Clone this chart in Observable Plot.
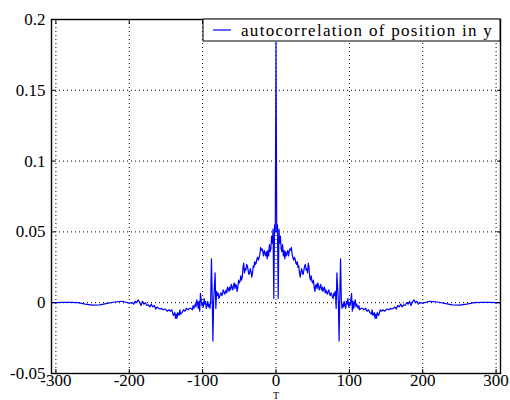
<!DOCTYPE html>
<html>
<head>
<meta charset="utf-8">
<script src="https://cdn.jsdelivr.net/npm/d3@7"></script>
<script src="https://cdn.jsdelivr.net/npm/@observablehq/plot@0.6"></script>
<style>
  html, body { margin: 0; padding: 0; background: white; }
  #chart { position: relative; width: 510px; height: 400px; overflow: hidden; }
  #chart svg text { font-family: 'Liberation Serif', 'DejaVu Serif', serif; }
</style>
</head>
<body>
<div id="chart"></div>
<script>
// Autocorrelation of the y position, lags 0..306 (the function is even in T).
const lagsPos = [
  0, 1, 2, 3, 4, 5, 6, 7, 8, 9, 10, 11, 12, 13, 14, 15, 16, 17, 18, 19,
  20, 21, 22, 24, 25, 26, 27, 28, 29, 30, 31, 32, 33, 34, 35, 36, 37, 38, 39, 40,
  41, 42, 43, 44, 45, 46, 47, 48, 49, 50, 51, 52, 53, 54, 55, 56, 57, 58, 59, 60,
  61, 62, 63, 64, 65, 66, 67, 68, 69, 70, 71, 72, 73, 74, 75, 76, 77, 78, 79, 80,
  81, 82, 83, 84, 85, 86, 87, 88, 89, 90, 91, 92, 93, 94, 95, 96, 97, 98, 99, 100,
  101, 102, 103, 104, 105, 106, 107, 108, 109, 110, 112, 113, 114, 116, 118, 120, 122, 124, 126, 128,
  130, 131, 132, 134, 135, 136, 137, 138, 140, 142, 144, 146, 148, 150, 152, 154, 156, 158, 160, 162,
  164, 166, 168, 170, 172, 174, 176, 178, 180, 182, 184, 186, 188, 190, 192, 194, 196, 200, 210, 220,
  230, 240, 250, 260, 270, 280, 290, 300, 306
];
const acfPos = [
  0.184, 0.050, 0.055, 0.003, 0.052, 0.042, 0.047, 0.038, 0.036, 0.041, 0.033, 0.037, 0.031, 0.036, 0.033, 0.035, 0.037, 0.033, 0.036, 0.038,
  0.037, 0.039, 0.034, 0.030, 0.032, 0.031, 0.028, 0.027, 0.029, 0.025, 0.026, 0.021, 0.018, 0.022, 0.024, 0.021, 0.020, 0.023, 0.026, 0.027,
  0.023, 0.024, 0.021, 0.028, 0.025, 0.018, 0.016, 0.019, 0.015, 0.014, 0.016, 0.011, 0.008, 0.012, 0.013, 0.010, 0.014, 0.012, 0.009, 0.011,
  0.013, 0.009, 0.011, 0.008, 0.010, 0.011, 0.007, 0.009, 0.007, 0.006, 0.008, 0.009, 0.006, 0.005, 0.007, 0.006, 0.004, 0.003, 0.007, 0.005,
  0.008, -0.004, 0.021, 0.011, 0.001, -0.027, 0.006, 0.031, 0.002, -0.004, -0.001, -0.003, 0.001, -0.002, -0.004, 0.001, -0.001, 0.003, -0.003, 0.000,
  -0.002, 0.002, 0.0066, -0.006, 0.001, -0.004, 0.000, 0.002, -0.003, -0.001, -0.004, -0.002, -0.005, -0.004, -0.004, -0.005, -0.004, -0.006, -0.005, -0.007,
  -0.008, -0.005, -0.009, -0.007, -0.011, -0.008, -0.011, -0.007, -0.009, -0.005, -0.006, -0.005, -0.006, -0.005, -0.0045, -0.005, -0.004, -0.0045, -0.004, -0.003,
  -0.0045, -0.002, -0.003, -0.001, -0.003, -0.0015, -0.002, 0.000, -0.001, 0.001, -0.002, 0.0005, 0.002, 0.000, 0.001, -0.001, 0.000, -0.0003, 0.001, 0.0005,
  -0.0005, -0.0015, -0.0017, -0.001, 0.000, 0.0002, 0.0002, 0.0001, 0.000
];

const xTicks = [-300, -200, -100, 0, 100, 200, 300];
const yTicks = [-0.05, 0, 0.05, 0.1, 0.15, 0.2];
const seriesName = "autocorrelation of position in y";
const xLabel = "T";

// Two-sided table: negative lags mirror the positive ones.
const rows = [];
for (let i = lagsPos.length - 1; i > 0; i--) rows.push({T: -lagsPos[i], r: acfPos[i]});
for (let i = 0; i < lagsPos.length; i++) rows.push({T: lagsPos[i], r: acfPos[i]});

const noLabel = () => "";

const chart = Plot.plot({
  width: 510,
  height: 400,
  marginLeft: 51,
  marginRight: 10,
  marginTop: 19,
  marginBottom: 27,
  style: "font-family: 'Liberation Serif', 'DejaVu Serif', serif; font-size: 17px; color: black; background: white; overflow: visible;",
  x: {domain: [-306, 306]},
  y: {domain: [-0.05, 0.2]},
  marks: [
    Plot.gridX(xTicks, {stroke: "black", strokeOpacity: 1, strokeDasharray: "1,3", strokeWidth: 1}),
    Plot.gridY(yTicks, {stroke: "black", strokeOpacity: 1, strokeDasharray: "1,3", strokeWidth: 1}),
    Plot.line(rows, {x: "T", y: "r", stroke: "#0000ff", strokeWidth: 1.2}),
    Plot.axisX(xTicks, {anchor: "bottom", tickSize: 0, tickPadding: 0, tickFormat: d => String(d), label: null}),
    Plot.axisY(yTicks, {anchor: "left", tickSize: 0, tickPadding: 6, tickFormat: d => String(d), label: null}),
    Plot.axisX(xTicks, {anchor: "bottom", tickSize: -4, tickFormat: noLabel, label: null}),
    Plot.axisX(xTicks, {anchor: "top", tickSize: -4, tickFormat: noLabel, label: null}),
    Plot.axisY(yTicks, {anchor: "left", tickSize: -4, tickFormat: noLabel, label: null}),
    Plot.axisY(yTicks, {anchor: "right", tickSize: -4, tickFormat: noLabel, label: null}),
    Plot.frame({stroke: "black", strokeWidth: 1.4}),
    Plot.text([xLabel], {frameAnchor: "bottom", dy: 25, lineAnchor: "bottom", fontSize: 10})
  ]
});
document.getElementById("chart").appendChild(chart);

// Legend box in the upper right corner of the axes.
const svg = d3.select(chart);
const g = svg.append("g");
g.append("rect").attr("x", 203).attr("y", 19).attr("width", 297).attr("height", 22)
  .attr("fill", "white").attr("stroke", "black").attr("stroke-width", 1);
g.append("line").attr("x1", 213).attr("x2", 231).attr("y1", 30).attr("y2", 30)
  .attr("stroke", "#0000ff").attr("stroke-width", 1.2);
g.append("text").attr("x", 241).attr("y", 35.5)
  .style("text-anchor", "start").style("font-size", "17px").style("fill", "black")
  .style("letter-spacing", "1.3px")
  .text(seriesName);
</script>
</body>
</html>
